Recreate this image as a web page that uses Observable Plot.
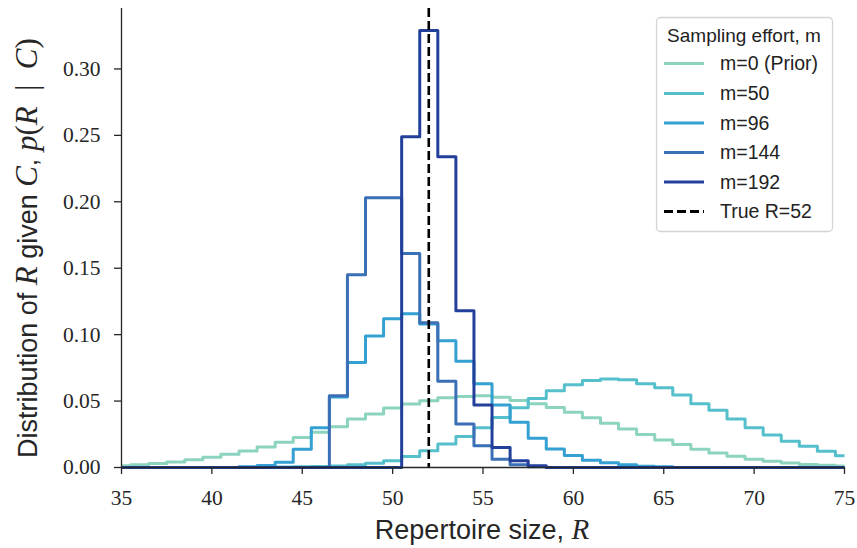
<!DOCTYPE html>
<html>
<head>
<meta charset="utf-8">
<script src="https://cdn.jsdelivr.net/npm/d3@7"></script>
<script src="https://cdn.jsdelivr.net/npm/@observablehq/plot@0.6"></script>
<style>
  html, body { margin: 0; padding: 0; background: #fff; }
  #chart { width: 857px; height: 548px; }
</style>
</head>
<body>
<div id="chart"></div>
<script>
// Repertoire sizes R = 35 .. 75
const R = [35,36,37,38,39,40,41,42,43,44,45,46,47,48,49,50,51,52,53,54,55,56,57,58,59,60,61,62,63,64,65,66,67,68,69,70,71,72,73,74,75];

// Posterior distributions p(R | C) for each sampling effort m
const m0 = [0.0014,0.002,0.003,0.0042,0.0058,0.0077,0.010,0.0125,0.0155,0.019,
            0.0226,0.0266,0.0307,0.0365,0.0402,0.0448,0.0478,0.0503,0.0525,0.0535,
            0.054,0.0528,0.0505,0.048,0.0452,0.0415,0.0375,0.0333,0.029,0.0248,
            0.0207,0.0173,0.0138,0.011,0.0084,0.0063,0.0047,0.0034,0.0023,0.0016,0.0012];
const m50 = [0,0,0,0,0,0,0,0,0,0.0003,0.0005,0.0008,
             0.0012,0.002,0.0032,0.005,0.0083,0.0126,0.0176,0.0234,0.030,0.0377,0.045,0.052,0.0578,0.0622,
             0.0654,0.0667,0.066,0.063,0.060,0.0546,0.048,0.043,0.0365,0.030,0.0245,0.0198,0.016,0.0122,0.0088];
const m96 = [0,0,0,0,0,0,0,
             0.0005,0.0015,0.004,0.0137,0.030,0.053,0.079,0.099,0.112,0.1157,0.108,0.0955,0.080,0.063,0.047,
             0.034,0.022,0.014,0.009,0.0055,0.0035,0.002,0.001,0.0005,
             0,0,0,0,0,0,0,0,0,0];
const m144 = [0,0,0,0,0,0,0,0,0,0,0,0,
              0.054,0.145,0.203,0.203,0.161,0.109,0.065,0.0327,0.0164,0.0063,0.002,0.0005,
              0,0,0,0,0,0,0,0,0,0,0,0,0,0,0,0,0];
const m192 = [0,0,0,0,0,0,0,0,0,0,0,0,0,0,0,0,
              0.249,0.329,0.234,0.118,0.047,0.015,0.005,0.0013,
              0,0,0,0,0,0,0,0,0,0,0,0,0,0,0,0,0];

const seriesLabels = ["m=0 (Prior)", "m=50", "m=96", "m=144", "m=192"];
const seriesColors = ["#8cd3c0", "#55bfcc", "#35a0d2", "#3b6fb6", "#22409a"];
const seriesValues = [m0, m50, m96, m144, m192];
const trueR = 52;
const trueLabel = "True R=52";
const legendTitle = "Sampling effort, m";

const xTicks = [35,40,45,50,55,60,65,70,75];
const yTicks = [0,0.05,0.10,0.15,0.20,0.25,0.30];

const rows = seriesValues.flatMap((vals, i) =>
  R.map((r, j) => ({R: r, p: vals[j], m: seriesLabels[i]})));

const serif = "'Liberation Serif', 'DejaVu Serif', serif";
const sans = "'Liberation Sans', 'DejaVu Sans', sans-serif";
const axisColor = "#262626";

const svg = Plot.plot({
  width: 857,
  height: 548,
  marginLeft: 121,
  marginRight: 13,
  marginTop: 8,
  marginBottom: 81,
  style: {background: "#fff", color: axisColor, overflow: "visible", fontFamily: serif, fontSize: "21.5px"},
  x: {domain: [35, 75]},
  y: {domain: [0, 0.3455]},
  color: {domain: seriesLabels, range: seriesColors},
  marks: [
    Plot.line(rows, {x: "R", y: "p", z: "m", stroke: "m", curve: "step",
      strokeWidth: 3, strokeLinejoin: "round", strokeLinecap: "butt"}),
    Plot.ruleX([trueR], {stroke: "#000", strokeWidth: 2.6, strokeDasharray: "9,4"}),
    Plot.ruleX([35], {stroke: axisColor, strokeWidth: 1.3}),
    Plot.ruleY([0], {stroke: axisColor, strokeWidth: 1.3}),
    Plot.axisX({ticks: xTicks, tickSize: 7, tickPadding: 15, label: null,
      fontSize: 21.5, fontFamily: serif, tickFormat: d => String(d), strokeWidth: 1.3}),
    Plot.axisY({ticks: yTicks, tickSize: 7, tickPadding: 14, label: null,
      fontSize: 21.5, fontFamily: serif, tickFormat: d3.format(".2f"), strokeWidth: 1.3})
  ]
});

const s = d3.select(svg);
s.selectAll('g[aria-label="x-axis tick label"], g[aria-label="y-axis tick label"]')
  .attr("font-size", 21.5).attr("font-family", serif);

// x axis label
const xl = s.append("text")
  .attr("x", 482).attr("y", 539)
  .attr("text-anchor", "middle")
  .attr("fill", axisColor)
  .style("font-size", "27px");
xl.append("tspan").style("font-family", sans).text("Repertoire size, ");
xl.append("tspan").style("font-family", serif).style("font-style", "italic").style("font-size", "29px").text("R");

// y axis label
const yl = s.append("text")
  .attr("transform", "translate(37,248) rotate(-90)")
  .attr("text-anchor", "middle")
  .attr("fill", axisColor)
  .style("font-size", "27px");
const parts = [
  ["Distribution of ", "sans"], ["R", "it"], [" given ", "sans"], ["C", "it"], [", ", "sans"],
  ["p", "it"], ["(", "rm"], ["R", "it"], ["\u2002|\u2002", "rm"], ["C", "it"], [")", "rm"]
];
for (const [t, k] of parts) {
  const sp = yl.append("tspan").text(t);
  if (k === "sans") sp.style("font-family", sans);
  else sp.style("font-family", serif).style("font-size", "31px")
         .style("font-style", k === "it" ? "italic" : "normal");
}

// legend
const lg = s.append("g").attr("class", "legend").attr("text-anchor", "start");
lg.append("rect")
  .attr("x", 656.5).attr("y", 17.5).attr("width", 176).attr("height", 214)
  .attr("rx", 4).attr("fill", "#fff").attr("fill-opacity", 0.85)
  .attr("stroke", "#d4d4d4").attr("stroke-width", 1.3);
lg.append("text")
  .attr("x", 744).attr("y", 42).attr("text-anchor", "middle")
  .attr("fill", "#222").style("font-family", sans).style("font-size", "19px")
  .text(legendTitle);
const rowY = [63.5, 93.5, 123, 152.5, 182, 211.5];
const legendItems = seriesLabels.map((l, i) => ({label: l, color: seriesColors[i], dash: null}))
  .concat([{label: trueLabel, color: "#000", dash: "9,4"}]);
legendItems.forEach((it, i) => {
  lg.append("line")
    .attr("x1", 664).attr("x2", 704).attr("y1", rowY[i]).attr("y2", rowY[i])
    .attr("stroke", it.color).attr("stroke-width", 3)
    .attr("stroke-dasharray", it.dash);
  lg.append("text")
    .attr("x", 720).attr("y", rowY[i]).attr("dy", "0.35em")
    .attr("text-anchor", "start")
    .attr("fill", "#222").style("font-family", sans).style("font-size", "19.5px")
    .text(it.label);
});

document.getElementById("chart").appendChild(svg);
</script>
</body>
</html>
